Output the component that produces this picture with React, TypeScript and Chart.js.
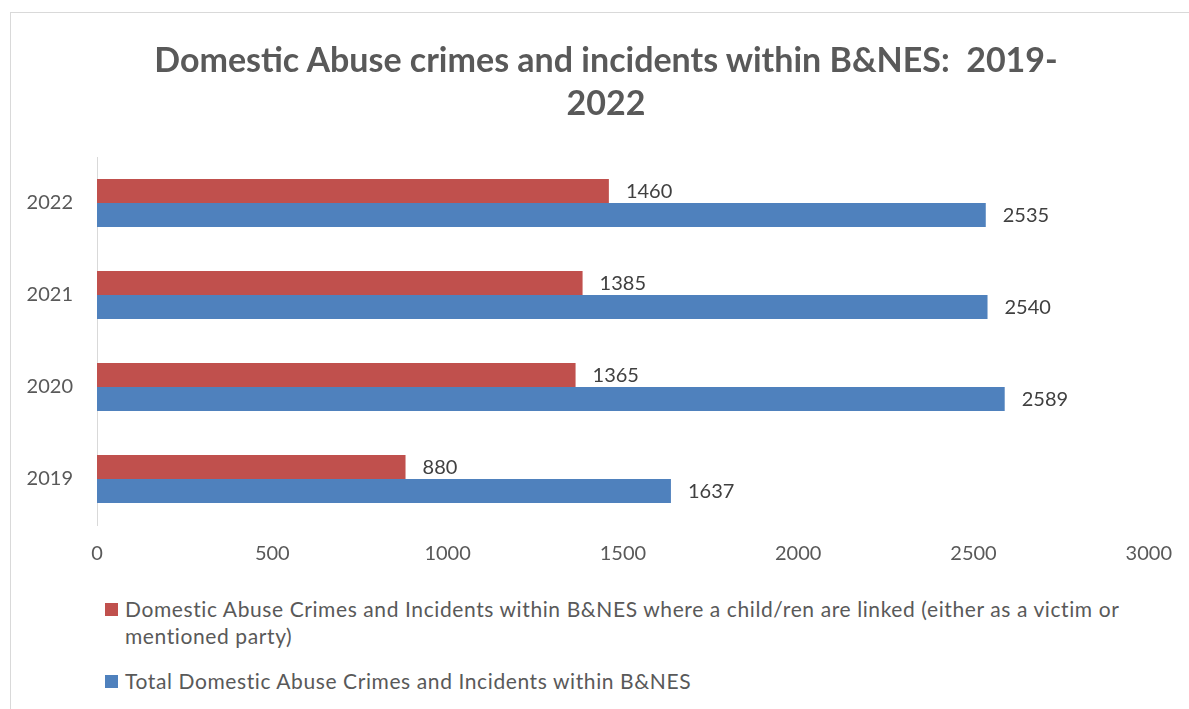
import React, { useEffect, useRef } from "react";
import { Chart, registerables } from "chart.js";

Chart.register(...registerables);

const years = ["2019", "2020", "2021", "2022"];
const childLinked = [880, 1365, 1385, 1460];
const totalCrimes = [1637, 2589, 2540, 2535];
const xTicks = [0, 500, 1000, 1500, 2000, 2500, 3000];
const seriesNames = [
  "Domestic Abuse Crimes and Incidents within B&NES where a child/ren are linked (either as a victim or mentioned party)",
  "Total Domestic Abuse Crimes and Incidents within B&NES",
];
const seriesColors = ["#C0504D", "#4F81BD"];
const titleLines = ["Domestic Abuse crimes and incidents within B&NES:  2019-", "2022"];

const FONT = "Lato, 'Open Sans', sans-serif";

const valueLabels = {
  id: "valueLabels",
  afterDatasetsDraw(chart: any) {
    const ctx = chart.ctx;
    ctx.save();
    ctx.font = `20px ${FONT}`;
    ctx.fillStyle = "#404040";
    ctx.textAlign = "left";
    ctx.textBaseline = "middle";
    chart.data.datasets.forEach((ds: any, di: number) => {
      const meta = chart.getDatasetMeta(di);
      meta.data.forEach((bar: any, i: number) => {
        ctx.fillText(String(ds.data[i]), bar.x + 17, bar.y + 1);
      });
    });
    ctx.restore();
  },
};

export default function App() {
  const canvasRef = useRef<HTMLCanvasElement | null>(null);

  useEffect(() => {
    const canvas = canvasRef.current;
    if (!canvas) return;
    const chart = new Chart(canvas, {
      type: "bar",
      data: {
        labels: years,
        datasets: [
          {
            label: seriesNames[0],
            data: childLinked,
            backgroundColor: seriesColors[0],
            categoryPercentage: 0.52,
            barPercentage: 1,
          },
          {
            label: seriesNames[1],
            data: totalCrimes,
            backgroundColor: seriesColors[1],
            categoryPercentage: 0.52,
            barPercentage: 1,
          },
        ],
      },
      options: {
        indexAxis: "y",
        responsive: false,
        animation: false,
        layout: { padding: { left: 20, right: 39, top: 157, bottom: 0 } },
        plugins: {
          legend: { display: false },
          title: { display: false },
          tooltip: { enabled: false },
        },
        scales: {
          x: {
            min: 0,
            max: 3000,
            afterBuildTicks: (scale: any) => {
              scale.ticks = xTicks.map((v) => ({ value: v }));
            },
            afterFit: (scale: any) => {
              scale.height = 55;
            },
            grid: { display: false, drawTicks: false },
            border: { display: false },
            ticks: {
              padding: 17,
              color: "#595959",
              font: { family: FONT, size: 20 },
              maxRotation: 0,
              callback: (v: any) => String(v),
            },
          },
          y: {
            reverse: true,
            afterFit: (scale: any) => {
              scale.width = 77;
            },
            grid: { display: false, drawTicks: false },
            border: { display: true, color: "#D9D9D9", width: 1 },
            ticks: {
              padding: 24,
              color: "#595959",
              font: { family: FONT, size: 20 },
            },
          },
        },
      },
      plugins: [valueLabels],
    } as any);
    return () => chart.destroy();
  }, []);

  const legendText: React.CSSProperties = {
    fontFamily: FONT,
    fontSize: 21,
    letterSpacing: "0.6px",
    color: "#595959",
    lineHeight: "27px",
  };

  return (
    <div
      style={{
        position: "absolute",
        left: 0,
        top: 0,
        width: 1189,
        height: 709,
        overflow: "hidden",
        background: "#fff",
      }}
    >
      <div
        style={{
          position: "absolute",
          left: 10,
          top: 12,
          width: 1200,
          height: 720,
          border: "1px solid #D9D9D9",
        }}
      />
      <canvas
        ref={canvasRef}
        width={1189}
        height={580}
        style={{ position: "absolute", left: 0, top: 0 }}
      />
      <div
        style={{
          position: "absolute",
          left: 0,
          top: 37,
          width: 1212,
          textAlign: "center",
          fontFamily: FONT,
          fontWeight: 700,
          fontSize: 34,
          lineHeight: "43px",
          color: "#595959",
          whiteSpace: "pre",
        }}
      >
        {titleLines.map((t, i) => (
          <div key={i}>{t}</div>
        ))}
      </div>
      <div style={{ position: "absolute", left: 105, top: 595, width: 1060 }}>
        {seriesNames.map((name, i) => (
          <div
            key={i}
            style={{ display: "flex", alignItems: "flex-start", marginBottom: 18 }}
          >
            <div
              style={{
                width: 13,
                height: 13,
                background: seriesColors[i],
                marginTop: 8,
                marginRight: 7,
                flex: "0 0 auto",
              }}
            />
            <div style={legendText}>{name}</div>
          </div>
        ))}
      </div>
    </div>
  );
}
